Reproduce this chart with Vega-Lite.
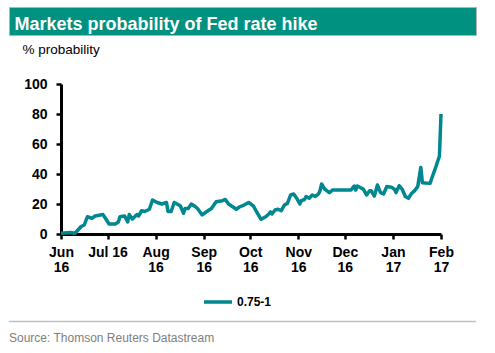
{
  "$schema": "https://vega.github.io/schema/vega-lite/v6.json",
  "padding": {"left": 8, "top": 6, "right": 5, "bottom": 5},
  "background": "white",
  "config": {
    "font": "Liberation Sans",
    "view": {"stroke": null}
  },
  "spacing": 6,
  "resolve": {"legend": {"color": "independent"}},
  "vconcat": [
    {
      "width": 467,
      "height": 28,
      "view": {"fill": "#009180", "stroke": "#b4b4b4", "strokeWidth": 1},
      "title": {
        "text": "Markets probability of Fed rate hike",
        "orient": "bottom",
        "anchor": "start",
        "frame": "group",
        "baseline": "alphabetic",
        "offset": -5.5,
        "dx": 5.5,
        "color": "white",
        "fontSize": 18,
        "fontWeight": "bold"
      },
      "data": {"values": [{"blank": ""}]},
      "mark": {"type": "text"},
      "encoding": {"text": {"field": "blank"}}
    },
    {
      "spacing": 0,
      "resolve": {"legend": {"color": "independent"}},
      "hconcat": [
        {
          "width": 13,
          "height": 1,
          "data": {"values": [{"blank": ""}]},
          "mark": {"type": "text"},
          "encoding": {"text": {"field": "blank"}}
        },
        {
          "width": 380,
          "height": 150,
          "data": {
            "values": [
              {"date": "2016-06-01", "value": 0.5},
              {"date": "2016-06-07", "value": 1},
              {"date": "2016-06-10", "value": 0.5},
              {"date": "2016-06-14", "value": 5},
              {"date": "2016-06-16", "value": 6},
              {"date": "2016-06-18", "value": 11.5},
              {"date": "2016-06-21", "value": 10.5},
              {"date": "2016-06-23", "value": 12},
              {"date": "2016-06-28", "value": 13},
              {"date": "2016-06-29", "value": 11.5},
              {"date": "2016-07-02", "value": 6.7},
              {"date": "2016-07-06", "value": 6.7},
              {"date": "2016-07-08", "value": 8},
              {"date": "2016-07-09", "value": 11.5},
              {"date": "2016-07-12", "value": 12},
              {"date": "2016-07-14", "value": 8},
              {"date": "2016-07-15", "value": 13},
              {"date": "2016-07-17", "value": 10},
              {"date": "2016-07-20", "value": 13},
              {"date": "2016-07-21", "value": 12},
              {"date": "2016-07-23", "value": 15.5},
              {"date": "2016-07-25", "value": 15},
              {"date": "2016-07-28", "value": 16.5},
              {"date": "2016-07-30", "value": 22.7},
              {"date": "2016-08-02", "value": 21},
              {"date": "2016-08-05", "value": 20},
              {"date": "2016-08-08", "value": 21},
              {"date": "2016-08-09", "value": 15},
              {"date": "2016-08-11", "value": 15},
              {"date": "2016-08-13", "value": 21},
              {"date": "2016-08-16", "value": 19.3},
              {"date": "2016-08-17", "value": 18.7},
              {"date": "2016-08-19", "value": 13.8},
              {"date": "2016-08-20", "value": 17},
              {"date": "2016-08-22", "value": 17},
              {"date": "2016-08-24", "value": 20},
              {"date": "2016-08-26", "value": 18.7},
              {"date": "2016-08-28", "value": 17},
              {"date": "2016-08-31", "value": 12.7},
              {"date": "2016-09-03", "value": 15},
              {"date": "2016-09-06", "value": 17},
              {"date": "2016-09-09", "value": 21.5},
              {"date": "2016-09-13", "value": 22.2},
              {"date": "2016-09-15", "value": 23},
              {"date": "2016-09-17", "value": 20},
              {"date": "2016-09-19", "value": 18.7},
              {"date": "2016-09-22", "value": 16.5},
              {"date": "2016-09-24", "value": 18},
              {"date": "2016-09-27", "value": 19.3},
              {"date": "2016-09-30", "value": 21},
              {"date": "2016-10-03", "value": 18.7},
              {"date": "2016-10-05", "value": 15},
              {"date": "2016-10-08", "value": 9.8},
              {"date": "2016-10-11", "value": 11.5},
              {"date": "2016-10-13", "value": 13.3},
              {"date": "2016-10-14", "value": 14.7},
              {"date": "2016-10-15", "value": 13.3},
              {"date": "2016-10-17", "value": 16},
              {"date": "2016-10-19", "value": 16.5},
              {"date": "2016-10-21", "value": 15.5},
              {"date": "2016-10-23", "value": 19.3},
              {"date": "2016-10-25", "value": 20.4},
              {"date": "2016-10-27", "value": 26},
              {"date": "2016-10-29", "value": 26.7},
              {"date": "2016-10-31", "value": 23.8},
              {"date": "2016-11-02", "value": 20},
              {"date": "2016-11-03", "value": 22.2},
              {"date": "2016-11-05", "value": 23},
              {"date": "2016-11-06", "value": 25},
              {"date": "2016-11-08", "value": 23.8},
              {"date": "2016-11-10", "value": 26},
              {"date": "2016-11-12", "value": 25},
              {"date": "2016-11-14", "value": 26.7},
              {"date": "2016-11-15", "value": 28.9},
              {"date": "2016-11-16", "value": 33.3},
              {"date": "2016-11-18", "value": 30},
              {"date": "2016-11-21", "value": 27.6},
              {"date": "2016-11-23", "value": 29.3},
              {"date": "2016-12-05", "value": 29.3},
              {"date": "2016-12-07", "value": 32},
              {"date": "2016-12-08", "value": 29.3},
              {"date": "2016-12-09", "value": 32},
              {"date": "2016-12-11", "value": 31},
              {"date": "2016-12-13", "value": 29.8},
              {"date": "2016-12-15", "value": 26},
              {"date": "2016-12-17", "value": 28.9},
              {"date": "2016-12-18", "value": 28.9},
              {"date": "2016-12-20", "value": 25.3},
              {"date": "2016-12-21", "value": 28.9},
              {"date": "2016-12-22", "value": 32.7},
              {"date": "2016-12-24", "value": 27.6},
              {"date": "2016-12-26", "value": 26.7},
              {"date": "2016-12-28", "value": 31.6},
              {"date": "2016-12-31", "value": 31.1},
              {"date": "2017-01-02", "value": 29.8},
              {"date": "2017-01-03", "value": 27.6},
              {"date": "2017-01-05", "value": 32.2},
              {"date": "2017-01-07", "value": 29.8},
              {"date": "2017-01-09", "value": 25},
              {"date": "2017-01-11", "value": 23.8},
              {"date": "2017-01-13", "value": 27},
              {"date": "2017-01-15", "value": 28.9},
              {"date": "2017-01-17", "value": 31.6},
              {"date": "2017-01-19", "value": 44.4},
              {"date": "2017-01-20", "value": 34.2},
              {"date": "2017-01-22", "value": 34},
              {"date": "2017-01-25", "value": 33.8},
              {"date": "2017-01-26", "value": 37},
              {"date": "2017-01-28", "value": 42.7},
              {"date": "2017-01-31", "value": 52},
              {"date": "2017-02-01", "value": 80}
            ]
          },
          "mark": {"type": "line", "strokeWidth": 3.5, "strokeJoin": "round"},
          "encoding": {
            "x": {
              "field": "date",
              "type": "temporal",
              "scale": {"domain": [{"year": 2016, "month": 6, "date": 1}, {"year": 2017, "month": 2, "date": 1}]},
              "axis": {
                "title": null,
                "grid": false,
                "values": [
                  {"year": 2016, "month": 6, "date": 1},
                  {"year": 2016, "month": 7, "date": 1},
                  {"year": 2016, "month": 8, "date": 1},
                  {"year": 2016, "month": 9, "date": 1},
                  {"year": 2016, "month": 10, "date": 1},
                  {"year": 2016, "month": 11, "date": 1},
                  {"year": 2016, "month": 12, "date": 1},
                  {"year": 2017, "month": 1, "date": 1},
                  {"year": 2017, "month": 2, "date": 1}
                ],
                "labelExpr": "month(datum.value) == 6 ? 'Jul 16' : [timeFormat(datum.value, '%b'), timeFormat(datum.value, '%y')]",
                "labelFontSize": 14,
                "labelFontWeight": "bold",
                "labelColor": "black",
                "labelBaseline": "top",
                "labelLineHeight": 15,
                "labelPadding": 6,
                "labelOverlap": false,
                "labelFlush": false,
                "domainColor": "black",
                "domainWidth": 3,
                "tickColor": "black",
                "tickWidth": 2.5,
                "tickSize": 5
              }
            },
            "y": {
              "field": "value",
              "type": "quantitative",
              "scale": {"domain": [0, 100]},
              "axis": {
                "title": "% probability",
                "titleAngle": 0,
                "titleAlign": "left",
                "titleBaseline": "alphabetic",
                "titleX": -39,
                "titleY": -31,
                "titleFontSize": 13.5,
                "titleFontWeight": "normal",
                "titleColor": "black",
                "grid": false,
                "values": [0, 20, 40, 60, 80, 100],
                "labelFontSize": 14,
                "labelFontWeight": "bold",
                "labelColor": "black",
                "labelPadding": 9,
                "domainColor": "black",
                "domainWidth": 3,
                "tickColor": "black",
                "tickWidth": 2.5,
                "tickSize": 5
              }
            },
            "color": {
              "datum": "0.75-1",
              "type": "nominal",
              "scale": {"range": ["#00878f"]},
              "legend": {
                "title": null,
                "orient": "none",
                "legendX": 141,
                "legendY": 202,
                "padding": 0,
                "symbolType": "stroke",
                "symbolSize": 784,
                "symbolStrokeWidth": 3.5,
                "labelFontSize": 12,
                "labelFontWeight": "bold",
                "labelColor": "black",
                "labelOffset": 3
              }
            }
          }
        }
      ]
    },
    {
      "width": 467,
      "height": 1,
      "view": {"fill": "#c0c0c0", "stroke": "#c0c0c0", "strokeWidth": 0.5},
      "title": {
        "text": "Source: Thomson Reuters Datastream",
        "orient": "bottom",
        "anchor": "start",
        "frame": "group",
        "baseline": "alphabetic",
        "offset": 15,
        "color": "#808080",
        "fontSize": 12,
        "fontWeight": "normal"
      },
      "data": {"values": [{"blank": ""}]},
      "mark": {"type": "text"},
      "encoding": {"text": {"field": "blank"}}
    }
  ]
}
